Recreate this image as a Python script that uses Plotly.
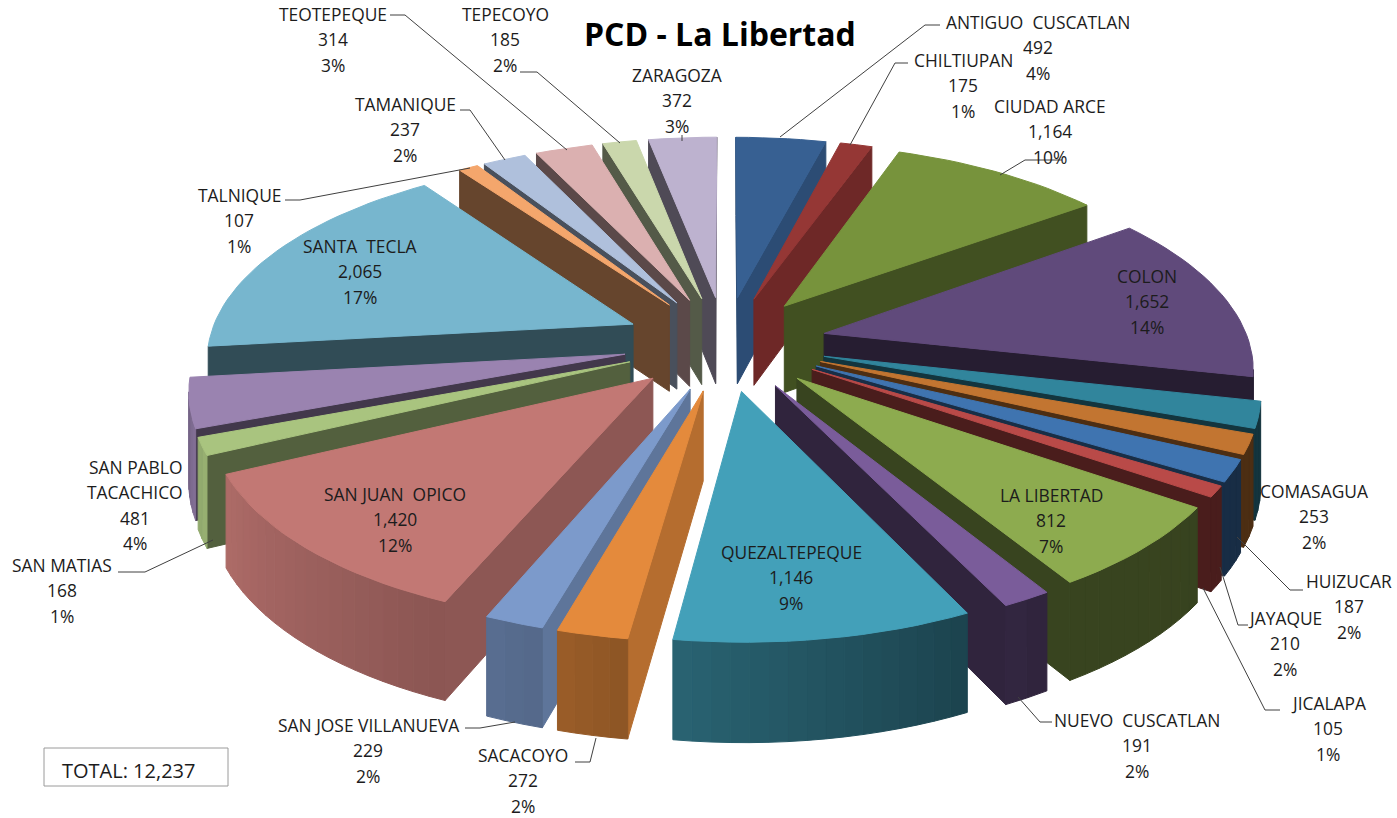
import math
import plotly.graph_objects as go

names = ["ANTIGUO  CUSCATLAN", "CHILTIUPAN", "CIUDAD ARCE", "COLON", "COMASAGUA", "HUIZUCAR", "JAYAQUE", "JICALAPA",
         "LA LIBERTAD", "NUEVO  CUSCATLAN", "QUEZALTEPEQUE", "SACACOYO", "SAN JOSE VILLANUEVA", "SAN JUAN  OPICO",
         "SAN MATIAS", "SAN PABLO|TACACHICO", "SANTA  TECLA", "TALNIQUE", "TAMANIQUE", "TEOTEPEQUE", "TEPECOYO", "ZARAGOZA"]
values = [492, 175, 1164, 1652, 253, 187, 210, 105, 812, 191, 1146, 272, 229, 1420, 168, 481, 2065, 107, 237, 314, 185, 372]
percents = ["4%", "1%", "10%", "14%", "2%", "2%", "2%", "1%", "7%", "2%", "9%", "2%", "2%", "12%", "1%", "4%", "17%", "1%", "2%", "3%", "2%", "3%"]
colors = ["#376092", "#953735", "#77933C", "#604A7B", "#31859C", "#C27531", "#3F74B0", "#B94A48", "#8DAB4F", "#7A5C9A",
          "#43A0B9", "#E48A3C", "#7C9ACB", "#C27874", "#A9C47F", "#9A83B0", "#77B6CE", "#F4A66C", "#AFC0DC", "#DBB0B0",
          "#CAD7AC", "#BDB2CF"]
label_pos = [(1038, 22), (963, 60), (1050, 106), (1147, 276), (1314, 491), (1349, 581), (1285, 618), (1328, 703),
             (1051, 495), (1137, 720), (791, 552), (523, 755), (368, 725), (395, 494), (62, 565), (135, 467),
             (360, 246), (239, 195), (405, 104), (333, 14), (505, 14), (677, 75)]
leaders = [
    [(780, 137), (925, 25), (940, 25)], [(850, 145), (895, 63), (908, 63)], [(1000, 175), (1025, 160), (1062, 160)],
    [(1237, 537), (1290, 590), (1303, 590)], [(1220, 567), (1238, 625), (1248, 625)],
    [(1203, 588), (1265, 710), (1280, 710)], [(1018, 697), (1040, 722), (1052, 722)],
    [(596, 738), (590, 762), (575, 762)], [(515, 722), (480, 728), (465, 728)], [(213, 540), (145, 572), (118, 572)],
    [(470, 168), (300, 200), (285, 200)], [(505, 160), (470, 110), (460, 110)], [(567, 150), (405, 15), (390, 15)],
    [(620, 143), (537, 72), (520, 72)], [(682, 135), (682, 141)],
]
radial_shades = [(0, .8), (14.5, .8), (19.6, .74), (54, .55), (102, .4), (180, .4), (187, .8), (203, .73), (244, .5), (250, .42), (360, .42)]
outer_shades = [(0, .38), (150, .4), (188, .62), (196, .68), (203, .72), (245, .9), (260, .75), (360, .4)]

CX, CY, F, G, P, PZ, EXPLODE, HEIGHT = 725, 343, 425, 197, 0.15, 0.1, 0.24, 88
total = sum(values)


def project(x, y, z=0.0):
    d = 1 + P * y
    return CX + F * x / d, CY - G * y / d + z * HEIGHT / (1 + PZ * y)


def lookup(table, deg):
    for (a, ka), (b, kb) in zip(table, table[1:]):
        if a <= deg <= b:
            return ka + (kb - ka) * (deg - a) / (b - a)
    return table[-1][1]


def shade(hex_color, k):
    r, g, b = (int(hex_color[i:i + 2], 16) for i in (1, 3, 5))
    return f"rgb({int(r * k)},{int(g * k)},{int(b * k)})"


def visible(p, q, inner):
    dx = q[0] - p[0]
    if abs(dx) < 1e-6:
        return False
    line_y = p[1] + (inner[0] - p[0]) * (q[1] - p[1]) / dx
    return inner[1] < line_y


fig = go.Figure()


def poly(points, color):
    xs = [p[0] for p in points] + [points[0][0]]
    ys = [p[1] for p in points] + [points[0][1]]
    fig.add_trace(go.Scatter(x=xs, y=ys, mode="lines", fill="toself", fillcolor=color,
                             line=dict(color=color, width=1), hoverinfo="skip", showlegend=False))


wedges = []
cum = 0
for i, v in enumerate(values):
    a0 = cum / total * 2 * math.pi
    cum += v
    a1 = cum / total * 2 * math.pi
    wedges.append((math.cos((a0 + a1) / 2), i, a0, a1))

for _, i, a0, a1 in sorted(wedges, key=lambda w: -w[0]):
    col = colors[i]
    m = (a0 + a1) / 2
    ax, ay = EXPLODE * math.sin(m), EXPLODE * math.cos(m)
    n = max(2, int((a1 - a0) / math.radians(2)))
    rim = [(ax + math.sin(a0 + (a1 - a0) * t / n), ay + math.cos(a0 + (a1 - a0) * t / n)) for t in range(n + 1)]
    top = [project(ax, ay)] + [project(*r) for r in rim]
    inner = (sum(p[0] for p in top) / len(top), sum(p[1] for p in top) / len(top))
    # radial walls
    for r, ang in ((rim[0], a0), (rim[-1], a1)):
        a, b = project(ax, ay), project(*r)
        if visible(a, b, inner):
            k = lookup(radial_shades, math.degrees(ang))
            poly([a, b, project(r[0], r[1], 1), project(ax, ay, 1)], shade(col, k))
    # outer wall, strip by strip for the gradient
    for t in range(n):
        a, b = project(*rim[t]), project(*rim[t + 1])
        if visible(a, b, inner):
            ang = a0 + (a1 - a0) * (t + 0.5) / n
            k = lookup(outer_shades, math.degrees(ang))
            poly([a, b, project(rim[t + 1][0], rim[t + 1][1], 1), project(rim[t][0], rim[t][1], 1)], shade(col, k))
    poly(top, col)

for path in leaders:
    fig.add_trace(go.Scatter(x=[p[0] for p in path], y=[p[1] for p in path], mode="lines",
                             line=dict(color="#404040", width=1), hoverinfo="skip", showlegend=False))

annotations = []


def text(x, y, s, size=17.4, color="#1c1c1c", bold=False):
    annotations.append(dict(x=x, y=y, xref="x", yref="y", text=f"<b>{s}</b>" if bold else s, showarrow=False,
                            font=dict(size=size, color=color, family="Open Sans"), xanchor="center", yanchor="middle"))


for name, v, pct, (x, y) in zip(names, values, percents, label_pos):
    lines = [s.replace("  ", "\u00a0\u00a0") for s in name.split("|")]
    lines += [f"{v:,}", pct]
    for j, s in enumerate(lines):
        text(x, y + j * 25.3, s)

text(720, 33, "PCD - La Libertad", size=32, color="#000000", bold=True)
text(128, 770, f"TOTAL: {total:,}", size=20)

fig.update_layout(
    width=1397, height=818, margin=dict(l=0, r=0, t=0, b=0), paper_bgcolor="white", plot_bgcolor="white",
    xaxis=dict(range=[0, 1397], visible=False, fixedrange=True),
    yaxis=dict(range=[818, 0], visible=False, fixedrange=True),
    annotations=annotations, showlegend=False,
    shapes=[dict(type="rect", x0=44, y0=748, x1=228, y1=786, line=dict(color="#9a9a9a", width=1))],
)
fig.write_html("out.html", config={"displayModeBar": False},
               post_script="document.body.style.margin='0';document.body.style.overflow='hidden';")
